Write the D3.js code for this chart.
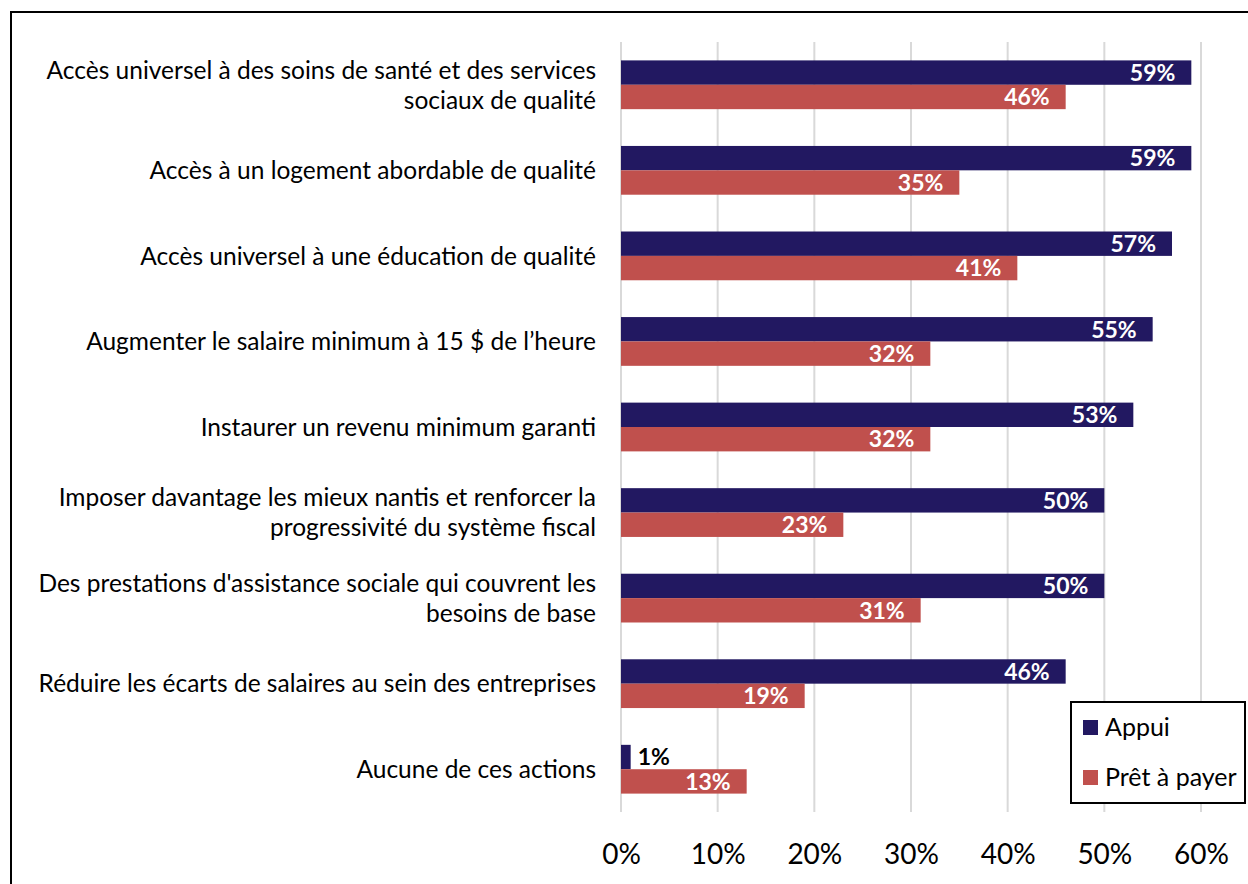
<!DOCTYPE html>
<html><head><meta charset="utf-8">
<script src="https://cdn.jsdelivr.net/npm/d3@7"></script>
<style>body{margin:0;background:#fff;} svg{display:block;}</style>
</head><body>
<svg id="c" width="1248" height="884"></svg>
<script>
const categories = [
  ["Accès universel à des soins de santé et des services", "sociaux de qualité"],
  ["Accès à un logement abordable de qualité"],
  ["Accès universel à une éducation de qualité"],
  ["Augmenter le salaire minimum à 15 $ de l’heure"],
  ["Instaurer un revenu minimum garanti"],
  ["Imposer davantage les mieux nantis et renforcer la", "progressivité du système fiscal"],
  ["Des prestations d'assistance sociale qui couvrent les", "besoins de base"],
  ["Réduire les écarts de salaires au sein des entreprises"],
  ["Aucune de ces actions"]
];
const appui = [59, 59, 57, 55, 53, 50, 50, 46, 1];
const pret = [46, 35, 41, 32, 32, 23, 31, 19, 13];
const seriesNames = ["Appui", "Prêt à payer"];
const ticks = [0, 10, 20, 30, 40, 50, 60];

const FONT = "Lato, 'Open Sans', sans-serif";
const colors = ["#221861", "#C0504D"];
const svg = d3.select("#c");

// outer frame
svg.append("rect").attr("x", 11).attr("y", 12).attr("width", 1300).attr("height", 1000)
  .attr("fill", "none").attr("stroke", "#000").attr("stroke-width", 2);

const x = d3.scaleLinear().domain([0, 60]).range([621, 1201]);
const y = d3.scaleBand().domain(d3.range(categories.length)).range([42, 812]).paddingInner(0.43).paddingOuter(0.215);
const ys = d3.scaleBand().domain([0, 1]).range([0, y.bandwidth()]);

// gridlines
svg.append("g").selectAll("line").data(ticks).join("line")
  .attr("x1", d => x(d)).attr("x2", d => x(d)).attr("y1", 42).attr("y2", 812)
  .attr("stroke", "#d9d9d9").attr("stroke-width", 2);

// x axis labels
const xAxis = d3.axisBottom(x).tickValues(ticks).tickFormat(d => d + "%").tickSize(0).tickPadding(0);
const gx = svg.append("g").attr("transform", "translate(0,844)").call(xAxis);
gx.select(".domain").remove();
gx.selectAll("text").attr("font-family", FONT).attr("font-size", 28).attr("fill", "#000");

// bars
const series = [appui, pret];
series.forEach((vals, si) => {
  const g = svg.append("g");
  g.selectAll("rect").data(vals).join("rect")
    .attr("x", x(0)).attr("y", (d, i) => y(i) + ys(si))
    .attr("width", d => x(d) - x(0)).attr("height", ys.bandwidth())
    .attr("fill", colors[si]);
  g.selectAll("text").data(vals).join("text")
    .attr("x", d => d < 5 ? x(d) + 7 : x(d) - 16)
    .attr("y", (d, i) => y(i) + ys(si) + ys.bandwidth() / 2)
    .attr("dy", "0.36em")
    .attr("text-anchor", d => d < 5 ? "start" : "end")
    .attr("font-family", FONT).attr("font-weight", "bold").attr("font-size", 23)
    .attr("fill", d => d < 5 ? "#000" : "#fff")
    .text(d => d + "%");
});

// category labels
const lab = svg.append("g");
categories.forEach((lines, i) => {
  const cy = y(i) + y.bandwidth() / 2;
  const n = lines.length;
  lines.forEach((t, k) => {
    lab.append("text").attr("x", 596).attr("y", cy + (k - (n - 1) / 2) * 30)
      .attr("dy", "0.36em").attr("text-anchor", "end")
      .attr("font-family", FONT).attr("font-size", 24.5).attr("fill", "#000").text(t);
  });
});

// legend
const lg = svg.append("g");
lg.append("rect").attr("x", 1071).attr("y", 702).attr("width", 174).attr("height", 101)
  .attr("fill", "#fff").attr("stroke", "#000").attr("stroke-width", 2);
seriesNames.forEach((s, i) => {
  const yy = 727 + i * 50;
  lg.append("rect").attr("x", 1083).attr("y", yy - 7).attr("width", 15).attr("height", 15).attr("fill", colors[i]);
  lg.append("text").attr("x", 1105).attr("y", yy).attr("dy", "0.36em")
    .attr("font-family", FONT).attr("font-size", 25).attr("fill", "#000").text(s);
});
</script>
</body></html>
